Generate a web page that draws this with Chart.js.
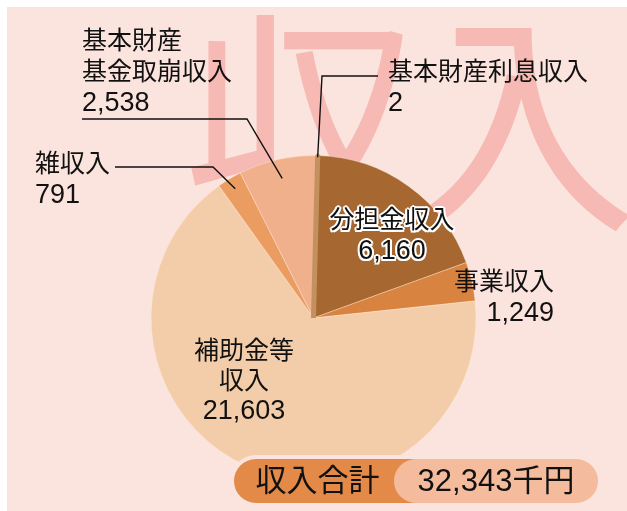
<!DOCTYPE html>
<html lang="ja">
<head>
<meta charset="utf-8">
<script src="https://cdn.jsdelivr.net/npm/chart.js@4.4.1/dist/chart.umd.min.js"></script>
<style>
  html, body { margin: 0; padding: 0; background: #fff; }
  #wrap { position: relative; width: 627px; height: 511px; overflow: hidden; }
  #bg { position: absolute; left: 7px; top: 7px; right: 0; bottom: 0; background: #fbe3de; }
  #mark {
    position: absolute; left: 183px; top: -31px;
    font-family: "Noto Sans CJK JP", sans-serif; font-size: 236px; font-weight: 400;
    color: #f6b9b3; letter-spacing: -17px; line-height: 1.2; white-space: nowrap;
  }
  #c { position: absolute; left: 0; top: 0; }
  .lbl {
    position: absolute; white-space: pre; color: #111;
    font-family: "Liberation Sans", "Noto Sans CJK JP", sans-serif;
    font-size: 25px; line-height: 31px;
  }
  .lbl .num { font-size: 27px; }
  .tight { line-height: 30px; }
  .outline {
    text-shadow: 2px 0 0 #fff, -2px 0 0 #fff, 0 2px 0 #fff, 0 -2px 0 #fff,
                 1.5px 1.5px 0 #fff, -1.5px 1.5px 0 #fff, 1.5px -1.5px 0 #fff, -1.5px -1.5px 0 #fff;
  }
  #badge { position: absolute; left: 230px; top: 455px; width: 372px; height: 52px; border-radius: 26px; background: #fbe3de; }
  #b1, #b2 {
    position: absolute; top: 4px; height: 44px; border-radius: 22px;
    font-family: "Liberation Sans", "Noto Sans CJK JP", sans-serif; font-size: 31px;
    line-height: 44px; color: #111; white-space: nowrap;
  }
  #b1 { left: 4px; width: 200px; background: #e38a48; text-align: left; }
  #b1 span { display: inline-block; width: 167px; text-align: center; }
  #b2 { left: 164px; width: 204px; background: #f5bb9d; text-align: center; }
</style>
</head>
<body>
<div id="wrap">
  <div id="bg"></div>
  <div id="mark">収入</div>
  <canvas id="c" width="627" height="511"></canvas>
  <div id="labels"></div>
  <div id="badge">
    <div id="b1"><span id="btitle"></span></div>
    <div id="b2"></div>
  </div>
</div>
<script>
// ── DATA ──────────────────────────────────
const categories = ['分担金収入', '事業収入', '補助金等収入', '雑収入', '基本財産基金取崩収入', '基本財産利息収入'];
const values     = [6160, 1249, 21603, 791, 2538, 2];   // 千円
const colors     = ['#a66830', '#d8833f', '#f3cda9', '#eb9c60', '#f0b08b', '#c3905f'];
const shownNames = ['分担金収入', '事業収入', '補助金等\n収入', '雑収入', '基本財産\n基金取崩収入', '基本財産利息収入'];
const totalTitle = '収入合計';
const unit       = '千円';

// ── LABEL LAYOUT ──────────────────────────
const labelPos = [
  { left: 328, top: 204, align: 'center', w: 128, cls: 'outline' },
  { left: 452, top: 266, align: 'right',  w: 102 },
  { left: 193, top: 335, align: 'center', w: 102, cls: 'tight' },
  { left: 35,  top: 148, align: 'left',   w: 90 },
  { left: 82,  top: 25,  align: 'left',   w: 160 },
  { left: 388, top: 56,  align: 'left',   w: 210 }
];
// elbow + end of leader lines (inner end comes from the arc)
const leaders = {
  4: { f: 0.88, pts: [[247, 119], [82, 119]] },
  3: { f: 0.93, pts: [[213, 167], [115, 167]] },
  5: { f: 0.99, pts: [[322, 76], [378, 76]] }
};

const fmt = v => v.toLocaleString('en-US');

const box = document.getElementById('labels');
categories.forEach((c, i) => {
  const p = labelPos[i];
  const d = document.createElement('div');
  d.className = 'lbl ' + (p.cls || '');
  d.style.left = p.left + 'px';
  d.style.top = p.top + 'px';
  d.style.width = p.w + 'px';
  d.style.textAlign = p.align;
  d.innerHTML = shownNames[i] + '\n<span class="num">' + fmt(values[i]) + '</span>';
  box.appendChild(d);
});

const total = values.reduce((a, b) => a + b, 0);
document.getElementById('btitle').textContent = totalTitle;
document.getElementById('b2').textContent = fmt(total) + unit;

// ── LEADER LINES ──────────────────────────
const leaderPlugin = {
  id: 'leaders',
  afterDatasetsDraw(chart) {
    const ctx = chart.ctx;
    const arcs = chart.getDatasetMeta(0).data;
    ctx.save();
    ctx.strokeStyle = '#111';
    ctx.lineWidth = 1.4;
    Object.keys(leaders).forEach(k => {
      const a = arcs[k];
      const { x, y, startAngle, endAngle, outerRadius } = a.getProps(['x', 'y', 'startAngle', 'endAngle', 'outerRadius'], true);
      const mid = (startAngle + endAngle) / 2;
      const r = outerRadius * leaders[k].f;
      ctx.beginPath();
      ctx.moveTo(x + Math.cos(mid) * r, y + Math.sin(mid) * r);
      leaders[k].pts.forEach(p => ctx.lineTo(p[0], p[1]));
      ctx.stroke();
    });
    ctx.restore();
  }
};

// ── CHART ─────────────────────────────────
new Chart(document.getElementById('c'), {
  type: 'pie',
  data: {
    labels: categories,
    datasets: [{
      data: values,
      backgroundColor: colors,
      borderColor: ['rgba(255,240,230,.45)', 'rgba(255,240,230,.45)', 'rgba(255,240,230,.45)',
                    'rgba(255,240,230,.45)', 'rgba(255,240,230,.45)', colors[5]],
      borderWidth: [0.8, 0.8, 0.8, 0.8, 0.8, 5]
    }]
  },
  options: {
    responsive: false,
    animation: false,
    rotation: 1.5,
    layout: { padding: { left: 148, right: 148, top: 153, bottom: 28 } },
    plugins: { legend: { display: false }, tooltip: { enabled: false } },
    events: []
  },
  plugins: [leaderPlugin]
});
</script>
</body>
</html>
